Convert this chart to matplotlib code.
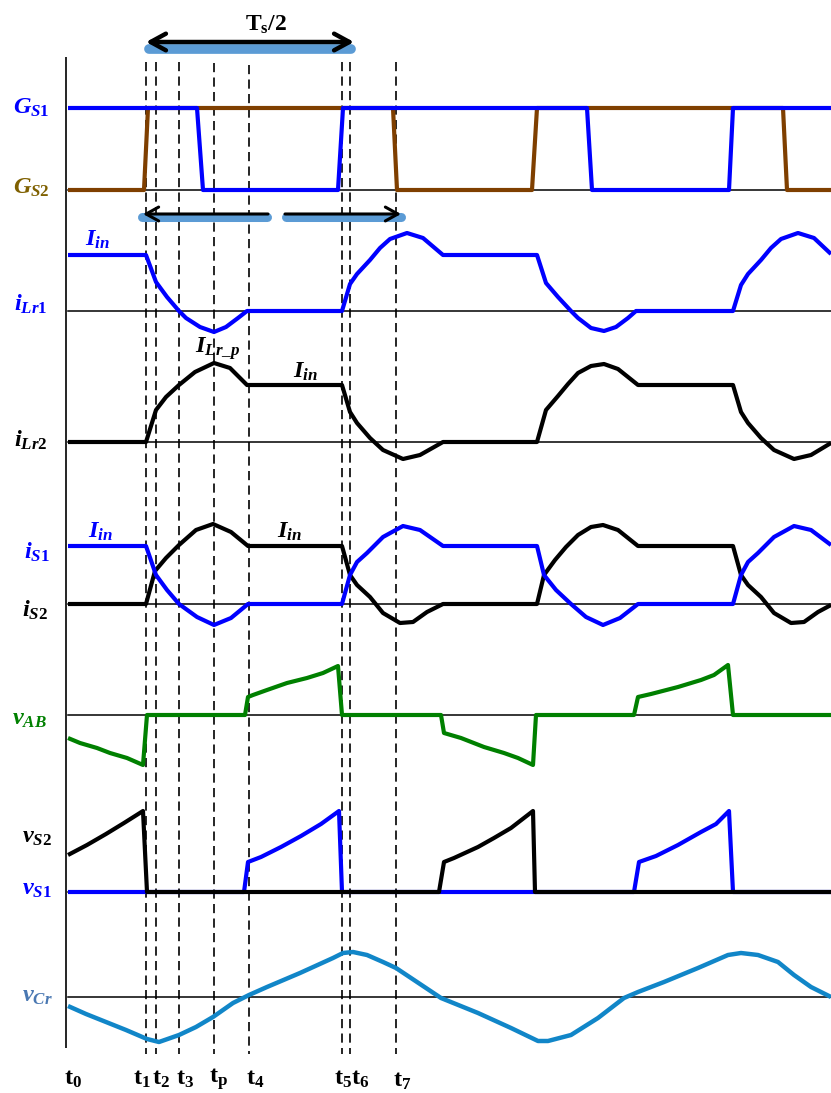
import matplotlib
matplotlib.use("Agg")
import matplotlib.pyplot as plt

plt.rcParams['mathtext.fontset'] = 'custom'
plt.rcParams['mathtext.rm'] = 'Liberation Serif:bold'
plt.rcParams['mathtext.it'] = 'Liberation Serif:bold:italic'
plt.rcParams['mathtext.bf'] = 'Liberation Serif:bold'

# ---------------- waveform data (time, amplitude) ----------------
# instants marked by the dashed lines
event_names = ['t_{1}', 't_{2}', 't_{3}', 't_{p}', 't_{4}', 't_{5}', 't_{6}', 't_{7}']
event_times = [80, 90, 113, 148, 183, 276, 284, 330]

# gate signals (1 = on)
gs1_t = [2, 131, 137, 272, 277, 521, 526, 663, 667, 765]
gs1_v = [1, 1, 0, 0, 1, 1, 0, 0, 1, 1]
gs2_t = [2, 78, 82, 327, 331, 466, 471, 717, 721, 765]
gs2_v = [0, 0, 1, 1, 0, 0, 1, 1, 0, 0]

# resonant inductor currents
ilr1_t = [2, 80, 90, 101, 113, 120, 134, 148, 160, 172, 181, 276, 284, 291, 304, 314,
          324, 341, 357, 377, 471, 480, 492, 505, 512, 525, 538, 550, 562, 570, 667,
          675, 682, 695, 705, 715, 732, 748, 765]
ilr1_v = [56, 56, 29, 14, 0, -7, -16, -21, -16, -7, 0, 0, 27, 37, 51, 63,
          72, 78, 73, 56, 56, 28, 14, 0, -7, -17, -20, -16, -7, 0, 0,
          26, 37, 51, 63, 72, 78, 73, 57]
ilr2_t = [2, 80, 90, 100, 113, 129, 148, 164, 181, 276, 284, 291, 304, 317, 337, 354,
          377, 471, 480, 492, 502, 512, 525, 538, 552, 572, 667, 675, 682, 695, 708,
          728, 745, 765]
ilr2_v = [0, 0, 32, 45, 57, 70, 79, 74, 57, 57, 30, 19, 4, -8, -17, -13,
          0, 0, 32, 46, 58, 69, 76, 78, 73, 57, 57, 30, 19, 4, -8,
          -17, -13, -1]

# switch currents
is1_t = [2, 80, 90, 101, 113, 131, 148, 165, 182, 276, 284, 291, 301, 317, 337, 354,
         377, 471, 478, 490, 505, 520, 537, 554, 572, 667, 675, 682, 692, 708, 728,
         745, 765]
is1_v = [58, 58, 29, 14, 0, -13, -21, -14, 0, 0, 29, 42, 51, 67, 78, 74,
         58, 58, 29, 14, 0, -13, -21, -14, 0, 0, 29, 42, 51, 67, 78,
         74, 59]
is2_t = [2, 80, 89, 100, 113, 130, 147, 165, 182, 276, 284, 291, 304, 317, 334, 347,
         361, 377, 471, 478, 489, 500, 512, 525, 537, 552, 572, 667, 675, 682, 695,
         708, 725, 738, 752, 765]
is2_v = [0, 0, 33, 46, 59, 74, 80, 72, 58, 58, 29, 19, 7, -9, -19, -18,
         -8, 0, 0, 29, 44, 57, 69, 77, 79, 74, 58, 58, 29, 19, 7,
         -9, -19, -18, -8, -1]

# bridge voltage
vab_t = [2, 14, 31, 44, 61, 77, 81, 179, 182, 187, 201, 221, 241, 257, 272, 276,
         375, 378, 395, 418, 438, 452, 467, 470, 568, 572, 585, 612, 635, 648, 662,
         667, 765]
vab_v = [-23, -28, -33, -38, -43, -50, 0, 0, 18, 20, 25, 32, 37, 42, 49, 0,
         0, -18, -23, -32, -38, -43, -50, 0, 0, 18, 21, 28, 35, 40, 50,
         0, 0]

# switch voltages
vs2_t = [2, 21, 40, 58, 77, 81, 373, 378, 388, 412, 428, 445, 467, 469, 765]
vs2_v = [37, 47, 58, 69, 81, 0, 0, 30, 34, 45, 54, 64, 81, 0, 0]
vs1_t = [2, 178, 182, 195, 215, 235, 255, 273, 276, 568, 573, 590, 612, 635, 650,
         663, 667, 765]
vs1_v = [0, 0, 30, 35, 45, 56, 68, 81, 0, 0, 30, 36, 47, 60, 68,
         81, 0, 0]

# resonant capacitor voltage
vcr_t = [2, 20, 40, 60, 81, 93, 113, 130, 147, 167, 183, 201, 234, 267, 277, 287,
         301, 317, 330, 345, 375, 412, 445, 472, 482, 505, 532, 558, 572, 598, 632,
         662, 675, 692, 712, 728, 745, 765]
vcr_v = [-9, -17, -25, -33, -42, -45, -38, -30, -20, -6, 2, 10, 24, 39, 44, 45,
         42, 35, 29, 19, -1, -16, -31, -44, -44, -38, -21, -1, 5, 15, 29,
         42, 44, 42, 35, 22, 10, 0]

# ---------------- layout ----------------
BLUE = '#0000ff'
BROWN = '#7f3f00'
GREEN = '#008000'
CR_BLUE = '#1186c8'
BAND = '#5b9bd5'

base = {'gs': 190, 'ilr1': 311, 'ilr2': 442, 'is': 604, 'vab': 715, 'vs': 892, 'vcr': 997}
gate_h = 82
X0 = 66  # pixel column of the time origin

fig = plt.figure(figsize=(8.31, 10.93), dpi=100)
ax = fig.add_axes([0, 0, 1, 1])
ax.set_xlim(-X0, 831 - X0)
ax.set_ylim(1093, 0)
ax.axis('off')


def px(x):
    return x - X0


# vertical axis
ax.plot([0, 0], [57, 1048], color='black', lw=1.2, solid_capstyle='butt')

# zero lines
for key in base:
    ax.plot([2, 765], [base[key], base[key]], color='black', lw=1.1, zorder=1)

# dashed event markers
dash_top = [62, 62, 62, 63, 65, 62, 62, 62]
for t, top in zip(event_times, dash_top):
    ax.plot([t, t], [top, 1054], color='black', lw=1.2,
            linestyle=(0, (5.5, 3.2)), zorder=2)


def trace(ts, vs, key, color, scale=1.0, lw=3.0, z=3):
    ax.plot(ts, [base[key] - v * scale for v in vs], color=color, lw=lw,
            solid_capstyle='butt', solid_joinstyle='round', zorder=z)


trace(gs2_t, gs2_v, 'gs', BROWN, scale=gate_h, z=3)
trace(gs1_t, gs1_v, 'gs', BLUE, scale=gate_h, z=4)
trace(ilr1_t, ilr1_v, 'ilr1', BLUE)
trace(ilr2_t, ilr2_v, 'ilr2', 'black')
trace(is2_t, is2_v, 'is', 'black', z=3)
trace(is1_t, is1_v, 'is', BLUE, z=4)
trace(vab_t, vab_v, 'vab', GREEN)
trace(vs1_t, vs1_v, 'vs', BLUE, z=3)
trace(vs2_t, vs2_v, 'vs', 'black', z=4)
trace(vcr_t, vcr_v, 'vcr', CR_BLUE, lw=3.2)

# half-period arrow
ax.plot([px(149), px(351)], [49, 49], color=BAND, lw=7, solid_capstyle='round', zorder=5)
ax.annotate('', xy=(px(146), 42), xytext=(px(354), 42),
            arrowprops=dict(arrowstyle='<->,head_length=1.1,head_width=0.6',
                            lw=3.2, color='black', shrinkA=0, shrinkB=0), zorder=6)
ax.text(px(266), 24, r'$\mathrm{T_{s}/2}$', fontsize=17, ha='center', va='center')

# interval arrows under the gate signals
ax.plot([px(142), px(267)], [217, 217], color=BAND, lw=6.5, solid_capstyle='round', zorder=5)
ax.plot([px(286), px(401)], [217, 217], color=BAND, lw=6.5, solid_capstyle='round', zorder=5)
ax.annotate('', xy=(px(143), 214), xytext=(px(268), 214),
            arrowprops=dict(arrowstyle='->,head_length=0.9,head_width=0.5',
                            lw=2.2, color='black', shrinkA=0, shrinkB=0), zorder=6)
ax.annotate('', xy=(px(401), 214), xytext=(px(285), 214),
            arrowprops=dict(arrowstyle='->,head_length=0.9,head_width=0.5',
                            lw=2.2, color='black', shrinkA=0, shrinkB=0), zorder=6)

# signal names
FS = 17.5
labels = [
    (13, 107, r'$\mathit{G_{S1}}$', BLUE),
    (13, 187, r'$\mathit{G_{S2}}$', '#7f6000'),
    (85, 239, r'$\mathit{I_{in}}$', BLUE),
    (14, 304, r'$\mathit{i_{Lr1}}$', BLUE),
    (195, 349, r'$\mathit{I_{Lr\_p}}$', 'black'),
    (293, 371, r'$\mathit{I_{in}}$', 'black'),
    (14, 440, r'$\mathit{i_{Lr2}}$', 'black'),
    (88, 531, r'$\mathit{I_{in}}$', BLUE),
    (277, 531, r'$\mathit{I_{in}}$', 'black'),
    (24, 552, r'$\mathit{i_{S1}}$', BLUE),
    (22, 610, r'$\mathit{i_{S2}}$', 'black'),
    (12, 718, r'$\mathit{v_{AB}}$', GREEN),
    (22, 836, r'$\mathit{v_{S2}}$', 'black'),
    (22, 888, r'$\mathit{v_{S1}}$', BLUE),
    (22, 995, r'$\mathit{v_{Cr}}$', '#4a78b2'),
]
for x, y, s, c in labels:
    ax.text(px(x), y, s, fontsize=FS, color=c, ha='left', va='center')

# time instants along the bottom
tick_x = [73, 142, 161, 185, 219, 255, 343, 360, 402]
tick_y = [1078, 1078, 1078, 1078, 1079, 1078, 1078, 1078, 1080]
for x, y, name in zip(tick_x, tick_y, ['t_{0}'] + event_names):
    ax.text(px(x), y, r'$\mathrm{' + name + '}$', fontsize=17.5, ha='center', va='center')

fig.savefig('out.png', dpi=100)
